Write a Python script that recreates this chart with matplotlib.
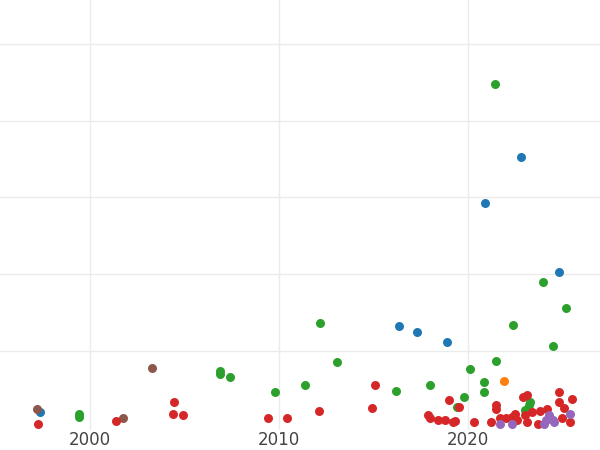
import matplotlib
matplotlib.use("Agg")
import matplotlib.pyplot as plt

green_x = [2021.4, 2023.97, 2025.2, 2022.4, 2012.17, 2024.5, 2013.07, 2021.5, 2020.1, 2006.9, 2006.9, 2007.4, 2020.85, 2011.4, 2016.2, 2018.0, 2009.8, 2020.85, 2019.8, 2023.3, 2019.4, 2023.0, 1999.4, 1999.4, 2023.2]
green_y = [4.47, 1.90, 1.56, 1.34, 1.37, 1.06, 0.85, 0.87, 0.76, 0.74, 0.70, 0.66, 0.59, 0.56, 0.48, 0.55, 0.46, 0.46, 0.40, 0.33, 0.27, 0.23, 0.18, 0.14, 0.29]
blue_x = [2022.8, 2020.9, 2024.8, 2016.35, 2017.3, 2018.9, 1997.36]
blue_y = [3.52, 2.93, 2.03, 1.33, 1.25, 1.12, 0.21]
brown_x = [2003.3, 1997.2, 2001.75]
brown_y = [0.78, 0.25, 0.12]
orange_x = [2021.9]
orange_y = [0.61]
red_x = [1997.25, 2001.4, 2004.45, 2004.4, 2004.9, 2009.4, 2010.4, 2012.1, 2014.9, 2015.1, 2017.9, 2018.0, 2018.4, 2018.8, 2019.2, 2019.3, 2019.0, 2019.5, 2020.3, 2021.2, 2021.5, 2021.5, 2021.7, 2022.0, 2022.5, 2022.6, 2022.9, 2023.1, 2023.0, 2023.1, 2023.4, 2023.8, 2024.2, 2024.8, 2024.8, 2025.1, 2025.5, 2024.98, 2025.4, 2023.7, 2022.3]
red_y = [0.05, 0.09, 0.33, 0.18, 0.16, 0.12, 0.13, 0.22, 0.26, 0.56, 0.17, 0.12, 0.10, 0.10, 0.08, 0.09, 0.36, 0.27, 0.08, 0.07, 0.29, 0.25, 0.12, 0.12, 0.18, 0.10, 0.40, 0.42, 0.17, 0.08, 0.21, 0.22, 0.25, 0.47, 0.34, 0.26, 0.38, 0.13, 0.08, 0.05, 0.14]
purple_x = [2021.7, 2022.3, 2024.1, 2024.3, 2024.5, 2024.0, 2025.4, 2024.55]
purple_y = [0.05, 0.05, 0.10, 0.16, 0.10, 0.05, 0.18, 0.07]

x_ticks = [2000, 2010, 2020]

fig = plt.figure(figsize=(6, 4.5), dpi=100)
ax = fig.add_axes([0, 20/450, 1, 430/450])
for s in ax.spines.values():
    s.set_visible(False)
ax.set_xlim(1995.24, 2026.98)
ax.set_ylim(-0.03, 5.57)
ax.set_xticks(x_ticks)
ax.set_yticks([1, 2, 3, 4, 5])
ax.set_yticklabels([])
ax.tick_params(length=0, labelsize=12, labelcolor="#444444", pad=0.5)
ax.grid(True, color="#ebebeb", linewidth=1)
ax.set_axisbelow(True)
for xs, ys, c in [(green_x, green_y, "#2ca02c"), (blue_x, blue_y, "#1f77b4"),
                  (brown_x, brown_y, "#8c564b"), (orange_x, orange_y, "#ff7f0e"),
                  (red_x, red_y, "#d62728"), (purple_x, purple_y, "#9467bd")]:
    ax.scatter(xs, ys, s=42, color=c, linewidths=0, zorder=3, clip_on=True)
fig.savefig("out.png", dpi=100)
